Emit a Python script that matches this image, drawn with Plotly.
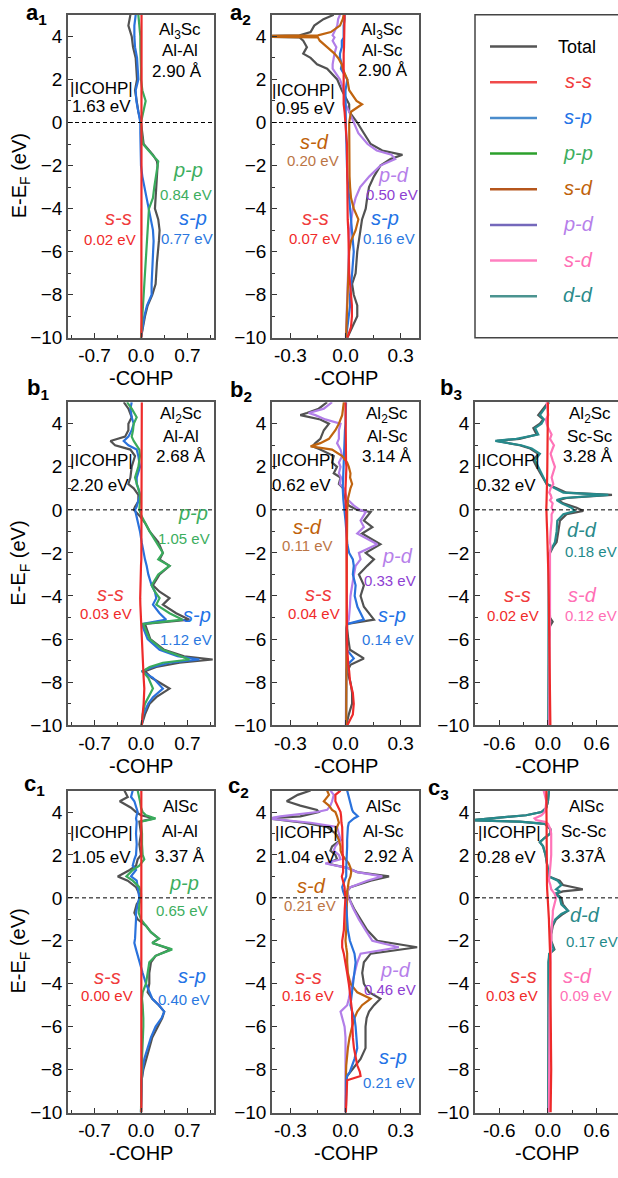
import plotly.graph_objects as go

FONT = "Liberation Sans, Arial, sans-serif"
W, H = 618, 1178

# ---------------- data (energy grids in eV, values are -COHP) ----------------
A1_E = [5, 4.5, 4, 3.5, 3, 2.5, 2, 1.5, 1, 0.5, 0, -0.5, -1, -1.5, -1.8, -2, -2.5, -3, -3.5, -4,
        -4.5, -5, -5.5, -6, -6.5, -7, -7.5, -8, -8.5, -9, -9.5, -10]
A1_TOTAL = [-0.16, -0.19, -0.14, -0.12, -0.08, -0.07, -0.06, -0.09, -0.07, -0.04, 0.0, 0.02, 0.04, 0.18, 0.24,
            0.25, 0.24, 0.23, 0.22, 0.21, 0.26, 0.28, 0.27, 0.25, 0.24, 0.23, 0.22, 0.17, 0.10, 0.06, 0.03, 0.0]
A1_SS = [0.008, 0.008, 0.008, 0.009, 0.009, 0.01, 0.01, 0.01, 0.01, 0.01, 0.01, 0.012, 0.012, 0.014, 0.014,
         0.015, 0.015, 0.015, 0.016, 0.016, 0.016, 0.016, 0.016, 0.016, 0.016, 0.015, 0.015, 0.014, 0.012,
         0.01, 0.008, 0.006]
A1_SP = [-0.08, -0.10, -0.10, -0.09, -0.06, -0.05, -0.04, -0.08, -0.07, -0.04, -0.01, -0.01, -0.01, 0.0, 0.0,
         0.0, 0.02, 0.05, 0.09, 0.12, 0.15, 0.18, 0.19, 0.18, 0.17, 0.16, 0.16, 0.16, 0.09, 0.05, 0.02, 0.0]
A1_PP = [-0.04, -0.02, -0.01, -0.01, 0.0, 0.0, 0.0, 0.02, 0.07, 0.03, 0.0, 0.01, 0.03, 0.17, 0.26,
         0.25, 0.22, 0.20, 0.18, 0.12, 0.11, 0.10, 0.10, 0.09, 0.08, 0.07, 0.06, 0.05, 0.03, 0.02, 0.01, 0.0]

A2_E = [5, 4.8, 4.5, 4.2, 4.05, 4.0, 3.95, 3.8, 3.5, 3.2, 3.0, 2.7, 2.5, 2.0, 1.5, 1.0, 0.85, 0.5, 0.0, -0.5,
        -1.0, -1.3, -1.5, -1.7, -2.0, -2.5, -3.0, -3.5, -4.0, -4.5, -5.0, -5.5, -6.0, -7.0, -7.5, -8.0, -8.5,
        -9.0, -9.5, -10]
A2_TOTAL = [-0.064, -0.12, -0.17, -0.19, -0.25, -0.6, -0.25, -0.23, -0.21, -0.23, -0.19, -0.155, -0.10, -0.045,
            -0.02, 0.01, 0.02, 0.02, 0.064, 0.10, 0.137, 0.20, 0.31, 0.245, 0.19, 0.155, 0.128, 0.118, 0.11, 0.09,
            0.082, 0.073, 0.064, 0.055, 0.036, 0.045, 0.064, 0.064, 0.036, 0.01]
A2_SS = [-0.005, -0.005, -0.005, -0.005, -0.005, -0.005, -0.005, -0.005, -0.008, -0.01, -0.01, -0.01, -0.01,
         -0.01, -0.01, -0.01, -0.01, -0.005, 0.0, 0.005, 0.008, 0.008, 0.008, 0.008, 0.01, 0.01, 0.01, 0.01,
         0.012, 0.012, 0.015, 0.015, 0.018, 0.02, 0.025, 0.03, 0.035, 0.035, 0.03, 0.01]
A2_SP = [-0.005, -0.005, -0.01, -0.01, -0.01, -0.01, -0.01, -0.02, -0.02, -0.03, -0.03, -0.02, -0.025, 0.01,
         0.0, 0.0, 0.0, 0.0, 0.0, 0.003, 0.005, 0.005, 0.005, 0.005, 0.008, 0.01, 0.015, 0.02, 0.025, 0.03,
         0.036, 0.04, 0.045, 0.036, 0.03, 0.025, 0.025, 0.018, 0.01, 0.003]
A2_PD = [-0.03, -0.04, -0.045, -0.06, -0.07, -0.065, -0.06, -0.07, -0.05, -0.06, -0.065, -0.07, -0.07, -0.03,
         -0.01, 0.0, 0.0, 0.02, 0.045, 0.07, 0.12, 0.17, 0.25, 0.27, 0.19, 0.13, 0.08, 0.055, 0.04, 0.03,
         0.024, 0.02, 0.018, 0.013, 0.01, 0.01, 0.008, 0.006, 0.004, 0.002]
A2_SD = [-0.01, -0.015, -0.03, -0.08, -0.15, -0.6, -0.15, -0.14, -0.10, -0.06, -0.04, -0.02, -0.015, 0.01,
         0.02, 0.06, 0.09, 0.03, 0.02, 0.02, 0.02, 0.02, 0.02, 0.02, 0.02, 0.022, 0.025, 0.03, 0.045, 0.07,
         0.055, 0.03, 0.02, 0.015, 0.012, 0.01, 0.01, 0.008, 0.006, 0.003]

B1_E = [5, 4.7, 4.3, 4.0, 3.7, 3.4, 3.2, 3.0, 2.8, 2.5, 2.0, 1.5, 1.2, 1.0, 0.7, 0.4, 0.15, 0.0, -0.3, -0.6,
        -1.0, -1.5, -2.0, -2.3, -2.6, -3.0, -3.5, -3.8, -4.1, -4.4, -4.8, -5.1, -5.3, -5.5, -6.0, -6.5, -6.8,
        -6.95, -7.1, -7.3, -7.5, -7.8, -8.3, -8.7, -9.0, -9.5, -10]
B1_TOTAL = [-0.26, -0.19, -0.14, -0.19, -0.19, -0.24, -0.46, -0.39, -0.16, -0.09, -0.14, -0.16, -0.19, -0.11,
            -0.04, -0.04, -0.09, -0.11, -0.015, 0.06, 0.13, 0.26, 0.33, 0.28, 0.43, 0.28, 0.18, 0.28, 0.43, 0.33,
            0.53, 0.73, 0.06, 0.085, 0.14, 0.35, 0.65, 1.08, 0.58, 0.23, 0.06, 0.16, 0.43, 0.23, 0.13, 0.06, 0.01]
B1_SP = [-0.14, -0.16, -0.14, -0.11, -0.14, -0.19, -0.26, -0.19, -0.065, -0.04, -0.015, -0.065, -0.065, -0.04,
         -0.015, -0.04, -0.065, -0.09, -0.065, -0.04, -0.015, 0.01, 0.035, 0.06, 0.085, 0.11, 0.16, 0.21, 0.23,
         0.18, 0.28, 0.38, 0.025, 0.035, 0.10, 0.28, 0.55, 0.88, 0.43, 0.18, 0.01, 0.18, 0.33, 0.18, 0.11,
         0.035, 0.01]
B1_PP = [-0.21, -0.14, -0.065, -0.11, -0.12, -0.14, -0.11, -0.065, -0.025, -0.015, -0.04, -0.09, -0.065, -0.04,
         -0.015, -0.015, -0.025, -0.025, 0.01, 0.06, 0.13, 0.23, 0.33, 0.26, 0.43, 0.26, 0.16, 0.21, 0.28, 0.23,
         0.43, 0.63, 0.035, 0.06, 0.13, 0.33, 0.60, 0.73, 0.33, 0.13, 0.025, 0.11, 0.18, 0.11, 0.06, 0.025, 0.01]
B1_SS = [0.012, 0.012, 0.012, 0.012, 0.012, 0.012, 0.012, 0.012, 0.012, 0.012, 0.012, 0.012, 0.012, 0.012,
         0.012, 0.012, 0.012, 0.012, 0.012, 0.012, 0.012, 0.01, 0.008, 0.005, 0.0, -0.005, -0.01, -0.012, -0.012,
         -0.01, -0.005, 0.0, 0.005, 0.01, 0.015, 0.02, 0.02, 0.02, 0.02, 0.025, 0.03, 0.04, 0.05, 0.05, 0.04,
         0.025, 0.01]

B2_E = [5, 4.7, 4.5, 4.4, 4.2, 4.0, 3.7, 3.3, 3.1, 2.95, 2.8, 2.5, 2.2, 2.0, 1.7, 1.5, 1.2, 1.0, 0.5, 0.2,
        0.0, -0.1, -0.5, -0.8, -1.1, -1.6, -2.0, -2.3, -2.6, -3.0, -3.5, -4.0, -4.5, -5.1, -5.3, -5.5, -6.0,
        -6.5, -6.9, -7.2, -7.5, -8.0, -8.5, -9.0, -9.5, -10]
B2_TOTAL = [-0.10, -0.146, -0.21, -0.246, -0.137, -0.09, -0.118, -0.137, -0.164, -0.18, -0.137, -0.064, -0.073,
            -0.046, -0.064, -0.027, -0.036, -0.013, 0.0, 0.018, 0.064, 0.137, 0.10, 0.146, 0.09, 0.19, 0.11,
            0.155, 0.118, 0.073, 0.10, 0.082, 0.10, 0.155, 0.009, 0.009, 0.015, 0.024, 0.10, 0.027, 0.009,
            0.027, 0.036, 0.036, 0.018, 0.004]
B2_PD = [-0.073, -0.118, -0.20, -0.164, -0.11, -0.027, -0.036, -0.036, -0.046, -0.036, -0.027, -0.018, -0.036,
         -0.027, -0.036, -0.024, -0.031, -0.009, 0.009, 0.046, 0.078, 0.11, 0.082, 0.10, 0.064, 0.173, 0.073,
         0.082, 0.055, 0.046, 0.036, 0.027, 0.024, 0.018, 0.009, 0.005, 0.004, 0.004, 0.004, 0.003, 0.003,
         0.003, 0.002, 0.002, 0.002, 0.002]
B2_SD = [-0.009, -0.013, -0.018, -0.018, -0.027, -0.036, -0.055, -0.09, -0.137, -0.19, -0.073, -0.018, 0.009,
         0.018, 0.027, 0.025, 0.036, 0.027, 0.013, 0.009, 0.009, 0.009, 0.009, 0.008, 0.008, 0.008, 0.008,
         0.007, 0.007, 0.007, 0.007, 0.006, 0.006, 0.006, 0.006, 0.005, 0.005, 0.005, 0.005, 0.005, 0.005,
         0.005, 0.004, 0.004, 0.004, 0.004]
B2_SP = [0.003, 0.003, 0.002, 0.002, 0.0, 0.0, -0.003, -0.005, -0.005, -0.005, -0.006, -0.008, -0.01, -0.01,
         -0.012, -0.015, -0.015, -0.015, -0.012, -0.01, -0.008, -0.005, 0.0, 0.003, 0.005, 0.01, 0.02, 0.04,
         0.045, 0.04, 0.055, 0.05, 0.065, 0.10, 0.01, 0.004, 0.004, 0.008, 0.045, 0.01, 0.005, 0.005, 0.004,
         0.004, 0.003, 0.003]
B2_SS = [0.0, 0.0, 0.0, 0.0, 0.0, 0.0, 0.0, 0.0, 0.0, 0.0, 0.0, 0.0, 0.003, 0.005, 0.003, 0.0, 0.0, 0.0, 0.0,
         0.0, 0.003, 0.004, 0.005, 0.005, 0.005, 0.005, 0.005, 0.005, 0.005, 0.005, 0.005, 0.005, 0.005, 0.006,
         0.006, 0.006, 0.008, 0.01, 0.012, 0.015, 0.02, 0.025, 0.04, 0.045, 0.04, 0.01]

B3_E = [5, 4.7, 4.4, 4.2, 4.0, 3.8, 3.5, 3.3, 3.2, 3.0, 2.85, 2.6, 2.3, 2.0, 1.5, 1.2, 1.0, 0.8, 0.7, 0.55,
        0.45, 0.3, 0.1, -0.05, -0.2, -0.5, -1.0, -1.5, -1.7, -2.0, -3.0, -4.0, -5.0, -5.2, -5.4, -6.0, -8.0, -10]
B3_TOTAL = [0.004, -0.058, -0.12, -0.058, -0.10, -0.18, -0.14, -0.35, -0.63, -0.35, -0.22, -0.12, -0.18, -0.14,
            -0.058, -0.016, 0.107, 0.23, 0.79, 0.23, 0.128, 0.19, 0.354, 0.436, 0.23, 0.148, 0.128, 0.107, 0.066,
            0.025, 0.016, 0.016, 0.025, 0.058, 0.025, 0.016, 0.012, 0.008]
B3_DD = [0.016, -0.037, -0.10, -0.05, -0.08, -0.16, -0.12, -0.39, -0.65, -0.33, -0.20, -0.10, -0.16, -0.12,
         -0.05, -0.016, 0.086, 0.19, 0.745, 0.19, 0.107, 0.17, 0.29, 0.33, 0.19, 0.115, 0.107, 0.086, 0.058,
         0.016, 0.008, 0.008, 0.008, 0.008, 0.008, 0.006, 0.004, 0.004]
B3_SD = [-0.016, -0.004, 0.004, -0.025, -0.016, 0.004, 0.045, 0.025, 0.045, 0.074, 0.058, 0.033, 0.058, 0.086,
         0.045, 0.066, 0.033, 0.016, 0.033, 0.045, 0.025, 0.058, 0.045, 0.066, 0.045, 0.045, 0.033, 0.025, 0.033,
         0.025, 0.025, 0.025, 0.025, 0.033, 0.025, 0.02, 0.018, 0.016]
B3_SS = [0.0, 0.0, -0.005, -0.005, -0.005, -0.005, -0.005, -0.005, -0.005, -0.005, -0.005, -0.005, -0.008, -0.008,
         -0.01, -0.01, -0.012, -0.015, -0.015, -0.016, -0.016, -0.018, -0.02, -0.02, -0.018, -0.015, -0.01,
         -0.005, -0.003, 0.0, 0.005, 0.01, 0.012, 0.014, 0.015, 0.018, 0.025, 0.03]

C1_E = [5, 4.7, 4.5, 4.2, 4.0, 3.85, 3.7, 3.55, 3.0, 2.5, 2.0, 1.8, 1.5, 1.3, 1.0, 0.8, 0.5, 0.2, 0.0, -0.3,
        -0.7, -1.0, -1.3, -1.6, -1.9, -2.1, -2.4, -2.7, -3.0, -3.5, -4.0, -4.4, -4.7, -5.0, -5.3, -5.6, -6.0,
        -6.5, -7.0, -7.5, -8.0, -8.5, -10]
C1_TOTAL = [-0.25, -0.20, -0.32, -0.15, -0.075, 0.0, 0.20, -0.025, 0.0, -0.025, 0.0, -0.05, -0.075, -0.17, -0.35,
            -0.20, -0.075, -0.025, 0.0, -0.065, -0.10, -0.05, 0.075, 0.15, 0.27, 0.17, 0.45, 0.22, 0.15, 0.125,
            0.125, 0.10, 0.17, 0.27, 0.35, 0.32, 0.25, 0.17, 0.125, 0.075, 0.035, 0.01, 0.0]
C1_SP = [-0.125, -0.15, -0.10, -0.065, -0.05, -0.065, -0.075, -0.065, -0.075, -0.065, -0.075, -0.10, -0.125,
         -0.075, -0.15, -0.065, -0.05, -0.035, -0.025, -0.05, -0.075, -0.075, -0.075, -0.085, -0.09, -0.10,
         -0.075, -0.05, -0.025, 0.025, 0.075, 0.125, 0.17, 0.27, 0.35, 0.31, 0.22, 0.15, 0.10, 0.05, 0.025,
         0.01, 0.0]
C1_PP = [-0.05, -0.025, -0.015, 0.0, 0.025, 0.075, 0.22, 0.0, 0.015, 0.015, 0.025, 0.05, -0.025, -0.125, -0.22,
         -0.125, -0.025, 0.0, 0.0, -0.025, -0.035, 0.0, 0.075, 0.15, 0.27, 0.17, 0.47, 0.22, 0.125, 0.10, 0.075,
         0.025, 0.015, 0.025, 0.035, 0.035, 0.035, 0.025, 0.025, 0.015, 0.015, 0.005, 0.0]
C1_SS = [0.005, 0.005, 0.005, 0.005, 0.005, 0.005, 0.005, 0.005, 0.005, 0.005, 0.005, 0.005, 0.005, 0.005,
         0.005, 0.005, 0.006, 0.006, 0.006, 0.006, 0.006, 0.007, 0.007, 0.007, 0.007, 0.007, 0.007, 0.008,
         0.008, 0.008, 0.008, 0.008, 0.008, 0.008, 0.008, 0.008, 0.008, 0.008, 0.008, 0.008, 0.007, 0.006, 0.005]

C2_E = [5, 4.8, 4.5, 4.3, 4.1, 4.0, 3.8, 3.7, 3.5, 3.3, 3.0, 2.7, 2.4, 2.2, 2.0, 1.8, 1.6, 1.4, 1.2, 1.0,
        0.8, 0.5, 0.3, 0.0, -0.5, -1.0, -1.5, -2.0, -2.3, -2.6, -3.0, -3.5, -4.0, -4.4, -4.7, -5.0, -5.3, -5.6,
        -6.0, -6.5, -7.0, -7.5, -7.8, -8.1, -8.3, -8.5, -10]
C2_TOTAL = [-0.19, -0.26, -0.32, -0.246, -0.155, -0.146, -0.246, -0.42, -0.228, -0.10, -0.055, -0.027, -0.073,
            -0.082, -0.055, -0.046, -0.10, 0.009, 0.064, 0.237, 0.137, 0.027, 0.009, 0.018, 0.046, 0.082, 0.118,
            0.173, 0.39, 0.137, 0.10, 0.091, 0.10, 0.128, 0.19, 0.155, 0.128, 0.115, 0.109, 0.109, 0.109, 0.082,
            0.055, 0.027, 0.009, 0.004, 0.002]
C2_PD = [-0.082, -0.064, -0.073, -0.082, -0.10, -0.155, -0.355, -0.42, -0.19, -0.046, -0.036, -0.027, -0.055,
         -0.064, -0.036, -0.027, -0.11, 0.009, 0.064, 0.20, 0.118, 0.027, 0.009, 0.018, 0.042, 0.073, 0.109,
         0.146, 0.29, 0.082, 0.064, 0.049, 0.036, 0.024, 0.018, 0.009, -0.027, -0.018, -0.005, 0.0, 0.0, 0.0,
         0.0, 0.0, 0.0, 0.0, 0.0]
C2_SD = [-0.10, -0.09, -0.118, -0.09, -0.073, -0.055, -0.046, -0.042, -0.036, -0.046, -0.055, -0.036, -0.027,
         -0.027, -0.018, 0.0, 0.018, 0.027, 0.031, 0.027, 0.018, 0.013, 0.009, 0.009, 0.009, 0.005, 0.004, 0.0,
         0.004, 0.009, 0.009, 0.013, 0.027, 0.064, 0.137, 0.09, 0.064, 0.049, 0.036, 0.022, 0.013, 0.005, 0.004,
         0.003, 0.003, 0.002, 0.002]
C2_SP = [0.009, 0.015, 0.022, 0.027, 0.036, 0.042, 0.067, 0.046, 0.018, 0.013, 0.009, 0.009, 0.009, 0.009,
         0.009, 0.009, 0.005, 0.004, 0.004, 0.004, -0.005, -0.018, -0.013, 0.0, 0.005, 0.009, 0.013, 0.024,
         0.036, 0.049, 0.055, 0.049, 0.042, 0.036, 0.031, 0.027, 0.036, 0.049, 0.055, 0.06, 0.064, 0.049, 0.036,
         0.024, 0.009, 0.004, 0.002]
C2_SS = [-0.027, -0.055, -0.055, -0.042, -0.031, -0.027, -0.024, -0.024, -0.022, -0.018, -0.018, -0.018, -0.016,
         -0.016, -0.015, -0.013, -0.013, -0.009, -0.013, -0.02, -0.013, -0.005, -0.004, 0.0, -0.004, -0.005,
         -0.009, -0.018, -0.018, -0.009, 0.0, 0.009, 0.018, 0.024, 0.027, 0.031, 0.036, 0.036, 0.036, 0.04,
         0.046, 0.055, 0.064, 0.078, 0.082, 0.009, 0.002]

C3_E = [5, 4.5, 4.2, 4.0, 3.85, 3.7, 3.62, 3.55, 3.45, 3.2, 3.0, 2.8, 2.6, 2.4, 2.0, 1.5, 1.0, 0.8, 0.6, 0.4,
        0.3, 0.2, 0.0, -0.3, -0.6, -0.75, -1.0, -1.3, -1.7, -2.0, -2.2, -2.4, -2.6, -3.0, -5.0, -8.0, -10]
C3_TOTAL = [0.012, 0.0, -0.02, -0.08, -0.27, -0.76, -0.95, -0.35, -0.04, 0.03, 0.03, -0.04, -0.10, -0.06, -0.03,
            -0.008, 0.012, 0.144, 0.185, 0.43, 0.185, 0.10, 0.165, 0.185, 0.247, 0.185, 0.10, 0.06, 0.04, 0.04,
            0.06, 0.08, 0.02, 0.008, 0.008, 0.004, 0.004]
C3_DD = [0.012, 0.0, -0.02, -0.08, -0.27, -0.76, -0.95, -0.35, -0.04, 0.03, 0.03, -0.04, -0.10, -0.06, -0.03,
         -0.008, 0.012, 0.12, 0.165, 0.10, 0.15, 0.09, 0.145, 0.165, 0.247, 0.165, 0.09, 0.05, 0.035, 0.035,
         0.05, 0.07, 0.015, 0.006, 0.006, 0.004, 0.004]
C3_SD = [-0.053, -0.02, -0.029, -0.04, -0.08, -0.165, -0.144, -0.04, 0.0, 0.03, 0.04, 0.04, 0.033, 0.04, 0.04,
         0.03, 0.02, 0.012, 0.03, 0.04, 0.06, 0.08, 0.10, 0.08, 0.06, 0.06, 0.053, 0.045, 0.04, 0.04, 0.037,
         0.033, 0.03, 0.03, 0.02, 0.02, 0.012]
C3_SS = [-0.02, -0.02, -0.02, -0.02, -0.02, -0.02, -0.02, -0.02, -0.02, -0.02, -0.02, -0.02, -0.02, -0.02, -0.02,
         -0.018, -0.015, -0.014, -0.012, -0.01, -0.008, -0.006, 0.0, 0.003, 0.006, 0.008, 0.012, 0.014, 0.018,
         0.02, 0.022, 0.024, 0.025, 0.03, 0.033, 0.04, 0.033]

Y_TICKS = [-10, -8, -6, -4, -2, 0, 2, 4]
X_TICKS = [[-0.7, 0.0, 0.7], [-0.3, 0.0, 0.3], [-0.6, 0.0, 0.6]]
X_TICKTEXT = [["-0.7", "0.0", "0.7"], ["-0.3", "0.0", "0.3"], ["-0.6", "0.0", "0.6"]]

# panel texts: (compound, bond, distance, |ICOHP| value)
PANEL_INFO = {
    "a1": ("Al<sub>3</sub>Sc", "Al-Al", "2.90 Å", "1.63 eV"),
    "a2": ("Al<sub>3</sub>Sc", "Al-Sc", "2.90 Å", "0.95 eV"),
    "b1": ("Al<sub>2</sub>Sc", "Al-Al", "2.68 Å", "2.20 eV"),
    "b2": ("Al<sub>2</sub>Sc", "Al-Sc", "3.14 Å", "0.62 eV"),
    "b3": ("Al<sub>2</sub>Sc", "Sc-Sc", "3.28 Å", "0.32 eV"),
    "c1": ("AlSc", "Al-Al", "3.37 Å", "1.05 eV"),
    "c2": ("AlSc", "Al-Sc", "2.92 Å", "1.04 eV"),
    "c3": ("AlSc", "Sc-Sc", "3.37Å", "0.28 eV"),
}

# ---------------- styling ----------------
LINE_COL = {"total": "#525252", "ss": "#ee2a2a", "sp": "#2a72dc", "pp": "#3aab5c",
            "sd": "#c0640f", "pd": "#b27ee8", "sdp": "#ff74b8", "dd": "#268a8c"}
LABEL_COL = {"ss": "#f03c3c", "sp": "#2272e6", "pp": "#3cae5e", "sd": "#c0620a",
             "pd": "#b680ea", "sdp": "#ff6fb5", "dd": "#2a8a8a"}
VALUE_COL = {"ss": "#f02a2a", "sp": "#2a78e0", "pp": "#3cae5e", "sd": "#bb7545",
             "pd": "#8e40d2", "sdp": "#ff6fb5", "dd": "#1f8a8a"}
LABEL_TXT = {"ss": "s-s", "sp": "s-p", "pp": "p-p", "sd": "s-d", "pd": "p-d", "sdp": "s-d", "dd": "d-d"}

COLS = [(68, 214), (272, 419), (475, 618)]
ROWS = [(15, 341), (406, 732), (798, 1123)]
XRANGES = [[-1.1, 1.1], [-0.4, 0.4], [-0.9, 0.864]]
X_MINOR = [[-1.05, -0.35, 0.35, 1.05], [-0.15, 0.15], [-0.3, 0.3]]

PANELS = [
    dict(key="a1", row=0, col=0, E=A1_E, series=[("total", A1_TOTAL), ("sp", A1_SP), ("pp", A1_PP), ("ss", A1_SS)],
         labels=[("pp", "0.84 eV", 188, 172, 186, 196), ("sp", "0.77 eV", 193, 220, 187, 241),
                 ("ss", "0.02 eV", 118, 220, 110, 242)],
         info=(180, 180, 177, 31, 51, 72, 69, 89, 71, 108), tag=(25, 14)),
    dict(key="a2", row=0, col=1, E=A2_E, series=[("total", A2_TOTAL), ("pd", A2_PD), ("sp", A2_SP), ("sd", A2_SD), ("ss", A2_SS)],
         labels=[("sd", "0.20 eV", 314, 143, 313, 162), ("pd", "0.50 eV", 393, 177, 392, 196),
                 ("ss", "0.07 eV", 315, 220, 315, 241), ("sp", "0.16 eV", 385, 220, 389, 241)],
         info=(382, 382, 383, 31, 51, 71, 271, 91, 275, 110), tag=(229, 14)),
    dict(key="b1", row=1, col=0, E=B1_E, series=[("total", B1_TOTAL), ("sp", B1_SP), ("pp", B1_PP), ("ss", B1_SS)],
         labels=[("pp", "1.05 eV", 193, 518, 184, 544), ("ss", "0.03 eV", 110, 600, 106, 619),
                 ("sp", "1.12 eV", 197, 621, 186, 646)],
         info=(181, 181, 181, 419, 441, 461, 69, 465, 69, 490), tag=(26, 393)),
    dict(key="b2", row=1, col=1, E=B2_E, series=[("total", B2_TOTAL), ("pd", B2_PD), ("sp", B2_SP), ("sd", B2_SD), ("ss", B2_SS)],
         labels=[("sd", "0.11 eV", 307, 532, 307, 551), ("pd", "0.33 eV", 397, 561, 390, 586),
                 ("ss", "0.04 eV", 318, 600, 314, 619), ("sp", "0.14 eV", 392, 621, 388, 646)],
         info=(387, 387, 387, 419, 441, 461, 271, 465, 271, 490), tag=(229, 395)),
    dict(key="b3", row=1, col=2, E=B3_E, series=[("total", B3_TOTAL), ("dd", B3_DD), ("sdp", B3_SD), ("ss", B3_SS)],
         labels=[("dd", "0.18 eV", 582, 535, 591, 557), ("ss", "0.02 eV", 517, 601, 513, 621),
                 ("sdp", "0.12 eV", 582, 601, 591, 621)],
         info=(590, 590, 588, 419, 441, 461, 476, 465, 476, 490), tag=(439, 393)),
    dict(key="c1", row=2, col=0, E=C1_E, series=[("total", C1_TOTAL), ("sp", C1_SP), ("pp", C1_PP), ("ss", C1_SS)],
         labels=[("pp", "0.65 eV", 184, 891, 182, 919), ("ss", "0.00 eV", 107, 986, 107, 1005),
                 ("sp", "0.40 eV", 192, 985, 184, 1009)],
         info=(180, 180, 180, 814, 839, 865, 69, 840, 71, 866), tag=(23, 792)),
    dict(key="c2", row=2, col=1, E=C2_E, series=[("total", C2_TOTAL), ("pd", C2_PD), ("sd", C2_SD), ("sp", C2_SP), ("ss", C2_SS)],
         labels=[("sd", "0.21 eV", 311, 894, 310, 914), ("ss", "0.16 eV", 308, 986, 308, 1005),
                 ("pd", "0.46 eV", 395, 979, 390, 999), ("sp", "0.21 eV", 393, 1067, 389, 1093)],
         info=(384, 384, 389, 814, 839, 865, 274, 840, 276, 866), tag=(227, 794)),
    dict(key="c3", row=2, col=2, E=C3_E, series=[("total", C3_TOTAL), ("dd", C3_DD), ("sdp", C3_SD), ("ss", C3_SS)],
         labels=[("dd", "0.17 eV", 585, 924, 592, 950), ("ss", "0.03 eV", 523, 985, 512, 1005),
                 ("sdp", "0.09 eV", 577, 985, 586, 1005)],
         info=(586, 584, 583, 814, 839, 865, 477, 840, 476, 866), tag=(427, 796)),
]


def px(x):
    return x / W


def py(y):
    return 1 - y / H


def text(x, y, s, size=17, color="black", xanchor="center", **kw):
    d = dict(x=px(x), y=py(y), xref="paper", yref="paper", text=s, showarrow=False,
             font=dict(size=size, color=color, family=FONT), xanchor=xanchor, yanchor="middle",
             borderpad=0)
    d.update(kw)
    return d


fig = go.Figure()
annotations = []
shapes = []
layout = dict(width=W, height=H, margin=dict(l=0, r=0, t=0, b=0), paper_bgcolor="white",
              plot_bgcolor="white", showlegend=False, font=dict(family=FONT, size=18, color="black"))

for i, p in enumerate(PANELS):
    n = i + 1
    sfx = "" if n == 1 else str(n)
    r, c = p["row"], p["col"]
    x0, x1 = COLS[c]
    y0, y1 = ROWS[r]
    for name, vals in p["series"]:
        assert len(vals) == len(p["E"]), (p["key"], name, len(vals), len(p["E"]))
        fig.add_trace(go.Scatter(x=vals, y=p["E"], mode="lines", xaxis="x" + sfx, yaxis="y" + sfx,
                                 line=dict(color=LINE_COL[name], width=2.2), hoverinfo="skip"))
    layout["xaxis" + sfx] = dict(
        domain=[px(x0), px(x1)], range=XRANGES[c], anchor="y" + sfx, tickvals=X_TICKS[c],
        ticktext=X_TICKTEXT[c], ticks="inside", ticklen=5, tickwidth=1.2, tickcolor="#333",
        minor=dict(tickvals=X_MINOR[c], ticks="inside", ticklen=3, tickwidth=1.2, tickcolor="#333"),
        showline=True, mirror=True, linecolor="#555", linewidth=1.5, showgrid=False, zeroline=False,
        tickfont=dict(size=19, family=FONT, color="black"), fixedrange=True)
    layout["yaxis" + sfx] = dict(
        domain=[py(y1), py(y0)], range=[-10, 5], anchor="x" + sfx, tickvals=Y_TICKS,
        ticks="inside", ticklen=5, tickwidth=1.2, tickcolor="#333",
        minor=dict(tickvals=[-9, -7, -5, -3, -1, 1, 3], ticks="inside", ticklen=3, tickwidth=1.2, tickcolor="#333"),
        showline=True, mirror=(c < 2), linecolor="#555", linewidth=1.5, showgrid=False, zeroline=False,
        tickfont=dict(size=19, family=FONT, color="black"), fixedrange=True)
    # Fermi level dashed line
    shapes.append(dict(type="line", xref=f"x{sfx} domain", yref="y" + sfx, x0=0, x1=1, y0=0, y1=0,
                       line=dict(color="black", width=1, dash="4px,3px")))
    # texts
    comp, bond, dist, icohp = PANEL_INFO[p["key"]]
    fx1, fx2, fx3, fy1, fy2, fy3, ix1, iy1, ix2, iy2 = p["info"]
    annotations += [text(fx1, fy1, comp), text(fx2, fy2, bond), text(fx3, fy3, dist),
                    text(ix1, iy1, "|ICOHP|", xanchor="left"), text(ix2, iy2, icohp, xanchor="left")]
    for name, val, lx, ly, vx, vy in p["labels"]:
        annotations.append(text(lx, ly, "<i>" + LABEL_TXT[name] + "</i>", size=20, color=LABEL_COL[name]))
        annotations.append(text(vx, vy, val, size=15, color=VALUE_COL[name]))
    letter = p["key"][0]
    sub = p["key"][1]
    tx, ty = p["tag"]
    annotations.append(text(tx, ty, f"<b>{letter}<sub>{sub}</sub></b>", size=22, xanchor="left"))
    # axis titles
    annotations.append(text((x0 + x1) / 2, y1 + 41, "-COHP", size=20))
    if c == 0:
        annotations.append(text(20, (y0 + y1) / 2, "E-E<sub>F</sub> (eV)", size=20, textangle=-90))

# legend box (row a, column 3)
LEG_NAMES = ["total", "ss", "sp", "pp", "sd", "pd", "sdp", "dd"]
LEG_LINE = {"total": "#555555", "ss": "#f04a4a", "sp": "#4a8ccc", "pp": "#2ca02c", "sd": "#b5561c",
            "pd": "#7468bb", "sdp": "#ff80c0", "dd": "#4b9490"}
shapes.append(dict(type="rect", xref="paper", yref="paper", x0=px(475), x1=px(640), y0=py(341), y1=py(15),
                   line=dict(color="#444", width=1.5), fillcolor="rgba(0,0,0,0)"))
for k, name in enumerate(LEG_NAMES):
    yy = 47 + 36 * k
    shapes.append(dict(type="line", xref="paper", yref="paper", x0=px(490), x1=px(537), y0=py(yy), y1=py(yy),
                       line=dict(color=LEG_LINE[name], width=2.5)))
    if name == "total":
        annotations.append(text(577, yy, "Total", size=18))
    else:
        annotations.append(text(578, yy - 1, "<i>" + LABEL_TXT[name] + "</i>", size=20, color=LABEL_COL[name]))

layout["annotations"] = annotations
layout["shapes"] = shapes
fig.update_layout(**layout)
fig.write_html("out.html")
